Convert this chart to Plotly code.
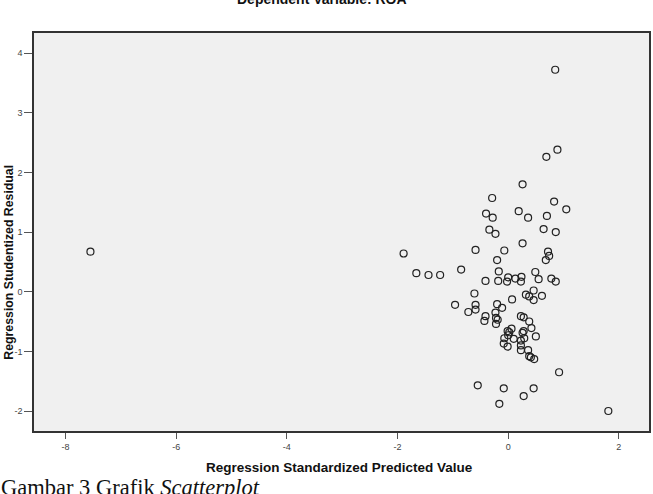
import plotly.graph_objects as go

predicted = [-7.55, -1.89, -1.66, -1.44, -1.23, -0.85, -0.96, -0.72, -0.59, -0.59,
             -0.61, -0.59, -0.55, -0.41, -0.41, -0.43, -0.40, -0.34, -0.29, -0.28,
             -0.23, -0.20, -0.17, -0.18, -0.20, -0.11, -0.23, -0.22, -0.19, -0.22,
             -0.16, -0.07, -0.02, 0.00, 0.07, 0.06, -0.01, 0.02, 0.00, 0.10,
             -0.07, -0.08, -0.01, -0.08, 0.13, 0.19, 0.24, 0.23, 0.26, 0.26,
             0.23, 0.28, 0.28, 0.26, 0.29, 0.23, 0.23, 0.23, 0.28, 0.36,
             0.32, 0.38, 0.36, 0.38, 0.42, 0.38, 0.41, 0.46, 0.46, 0.47,
             0.46, 0.49, 0.50, 0.55, 0.61, 0.64, 0.68, 0.69, 0.70, 0.72,
             0.74, 0.78, 0.83, 0.85, 0.86, 0.86, 0.89, 0.92, 1.05, 1.81]
residual = [0.67, 0.64, 0.31, 0.28, 0.28, 0.37, -0.22, -0.34, -0.22, -0.30,
            -0.03, 0.70, -1.57, 0.18, -0.41, -0.49, 1.31, 1.04, 1.57, 1.24,
            0.97, 0.53, 0.34, 0.18, -0.21, -0.27, -0.35, -0.44, -0.47, -0.54,
            -1.88, 0.69, 0.17, 0.24, -0.13, -0.62, -0.66, -0.68, -0.73, -0.79,
            -0.78, -0.87, -0.92, -1.62, 0.22, 1.35, 0.25, 0.17, 0.81, 1.80,
            -0.41, -0.43, -0.66, -0.69, -0.78, -0.82, -0.90, -0.98, -1.75, 1.24,
            -0.05, -0.08, -0.98, -0.50, -0.61, -1.08, -1.10, 0.02, -0.14, -1.13,
            -1.62, 0.33, -0.75, 0.21, -0.07, 1.05, 0.53, 2.26, 1.27, 0.67,
            0.60, 0.22, 1.51, 3.72, 1.00, 0.17, 2.38, -1.35, 1.38, -2.00]

x_ticks = [-8, -6, -4, -2, 0, 2]
y_ticks = [-2, -1, 0, 1, 2, 3, 4]

title_text = "Dependent Variable: ROA"
x_title = "Regression Standardized Predicted Value"
y_title = "Regression Studentized Residual"
caption = "Gambar 3 Grafik <i>Scatterplot</i>"

W, H = 653, 494
L, R, T, B = 33.5, 2, 33.3, 63.3
pw, ph = W - L - R, H - T - B

def px_x(px):
    return (px - L) / pw

def px_y(py):
    return (H - B - py) / ph

fig = go.Figure()
fig.add_trace(go.Scatter(
    x=predicted, y=residual, mode="markers",
    marker=dict(symbol="circle-open", size=7, color="#222222",
                line=dict(width=1.2, color="#222222")),
    showlegend=False, hoverinfo="skip"))

axis_common = dict(
    showgrid=False, zeroline=False, showline=True, linecolor="#333333",
    linewidth=1.5, mirror=True, ticks="outside", tickcolor="#555555",
    tickwidth=1.2, tickfont=dict(family="Liberation Sans, Arial", size=9, color="#444444"),
)

fig.update_xaxes(range=[-8.57, 2.545], tickvals=x_ticks, ticktext=[str(v) for v in x_ticks],
                 ticklen=6, **axis_common)
fig.update_yaxes(range=[-2.335, 4.336], tickvals=y_ticks, ticktext=[str(v) for v in y_ticks],
                 ticklen=8, **axis_common)

fig.add_annotation(text="<b>" + title_text + "</b>", xref="paper", yref="paper",
                   x=px_x(322.5), y=px_y(-1), xanchor="center", yanchor="middle",
                   showarrow=False, font=dict(family="Liberation Sans, Arial", size=14, color="#111111"))
fig.add_annotation(text="<b>" + x_title + "</b>", xref="paper", yref="paper",
                   x=px_x(340), y=px_y(467), xanchor="center", yanchor="middle",
                   showarrow=False, font=dict(family="Liberation Sans, Arial", size=13.5, color="#111111"))
fig.add_annotation(text="<b>" + y_title + "</b>", xref="paper", yref="paper",
                   x=px_x(8), y=px_y(262), xanchor="center", yanchor="middle",
                   textangle=-90, showarrow=False,
                   font=dict(family="Liberation Sans, Arial", size=12.3, color="#111111"))
fig.add_annotation(text=caption, xref="paper", yref="paper",
                   x=px_x(-2), y=px_y(487), xanchor="left", yanchor="middle",
                   showarrow=False, font=dict(family="Liberation Serif, Times New Roman", size=22.5, color="#111111"))

fig.update_layout(
    width=W, height=H,
    margin=dict(l=L, r=R, t=T, b=B, pad=0),
    plot_bgcolor="#f0f0f0", paper_bgcolor="white",
)

fig.write_html("out.html")
